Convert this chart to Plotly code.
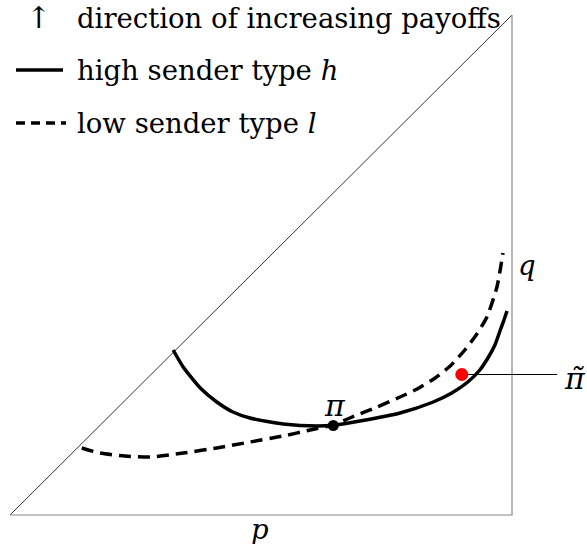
import plotly.graph_objects as go

# High sender type h (solid curve) (p, q)
high_p = [0.325, 0.345, 0.379, 0.412, 0.444, 0.478, 0.544, 0.612, 0.647, 0.697,
          0.777, 0.843, 0.880, 0.912, 0.936, 0.952, 0.966, 0.976, 0.984, 0.990]
high_q = [0.330, 0.296, 0.254, 0.226, 0.206, 0.194, 0.182, 0.178, 0.180, 0.188,
          0.204, 0.226, 0.244, 0.266, 0.290, 0.314, 0.340, 0.368, 0.390, 0.408]

# Low sender type l (dashed curve)
low_p = [0.143, 0.179, 0.229, 0.279, 0.345, 0.412, 0.478, 0.544, 0.598, 0.643,
         0.677, 0.731, 0.777, 0.811, 0.847, 0.877, 0.906, 0.930, 0.950, 0.970, 0.982]
low_q = [0.134, 0.124, 0.118, 0.116, 0.124, 0.134, 0.146, 0.158, 0.170, 0.180,
         0.194, 0.216, 0.236, 0.252, 0.274, 0.298, 0.330, 0.362, 0.396, 0.456, 0.524]

# Points
pi_point = (0.644, 0.179)
pi_tilde_point = (0.900, 0.281)
pi_tilde_line_end = 1.090

FONT = "DejaVu Serif"
FS = 27.5

fig = go.Figure()

# triangle
fig.add_trace(go.Scatter(x=[0, 1], y=[0, 1], mode="lines",
                         line=dict(color="#333333", width=1), hoverinfo="skip"))
fig.add_trace(go.Scatter(x=[0, 1, 1], y=[0, 0, 1], mode="lines",
                         line=dict(color="#888888", width=1.2), hoverinfo="skip"))

# curves
fig.add_trace(go.Scatter(x=low_p, y=low_q, mode="lines",
                         line=dict(color="black", width=3.5, dash="12px,7px",
                                   shape="spline", smoothing=0.6),
                         hoverinfo="skip"))
fig.add_trace(go.Scatter(x=high_p, y=high_q, mode="lines",
                         line=dict(color="black", width=3.5, shape="spline", smoothing=0.6),
                         hoverinfo="skip"))

# pi tilde line
fig.add_trace(go.Scatter(x=[pi_tilde_point[0], pi_tilde_line_end],
                         y=[pi_tilde_point[1], pi_tilde_point[1]], mode="lines",
                         line=dict(color="black", width=1), hoverinfo="skip"))

# points
fig.add_trace(go.Scatter(x=[pi_point[0]], y=[pi_point[1]], mode="markers",
                         marker=dict(color="black", size=11), hoverinfo="skip"))
fig.add_trace(go.Scatter(x=[pi_tilde_point[0]], y=[pi_tilde_point[1]], mode="markers",
                         marker=dict(color="red", size=13), hoverinfo="skip"))

def ann(x, y, text, xanchor="center", xref="x", yref="y", size=FS, family=FONT):
    fig.add_annotation(x=x, y=y, xref=xref, yref=yref, text=text, showarrow=False,
                       xanchor=xanchor, yanchor="middle",
                       font=dict(family=family, size=size, color="black"))

ann(0.647, 0.220, "<i>π</i>", size=30)
ann(1.125, 0.274, "<i>π̃</i>", size=30)
ann(1.03, 0.50, "<i>q</i>")
ann(0.498, -0.028, "<i>p</i>")

# legend
ann(38 / 587, 1 - 18 / 544, "↑", xref="paper", yref="paper", size=30)
ann(75 / 587, 1 - 18 / 544, "direction of increasing payoffs", xanchor="left", xref="paper", yref="paper")
ann(75 / 587, 1 - 70 / 544, "high sender type <i>h</i>", xanchor="left", xref="paper", yref="paper")
ann(75 / 587, 1 - 123 / 544, "low sender type <i>l</i>", xanchor="left", xref="paper", yref="paper")
fig.add_shape(type="line", xref="paper", yref="paper", x0=16 / 587, x1=63 / 587,
              y0=1 - 70 / 544, y1=1 - 70 / 544, line=dict(color="black", width=3.5))
fig.add_shape(type="line", xref="paper", yref="paper", x0=16 / 587, x1=66 / 587,
              y0=1 - 123 / 544, y1=1 - 123 / 544,
              line=dict(color="black", width=3.5, dash="9px,6px"))

fig.update_layout(
    width=587, height=544,
    margin=dict(l=0, r=0, t=0, b=0),
    paper_bgcolor="white", plot_bgcolor="white",
    showlegend=False,
    xaxis=dict(range=[-10 / 502, 577 / 502], visible=False, fixedrange=True),
    yaxis=dict(range=[-29 / 500, 515 / 500], visible=False, fixedrange=True),
)

fig.write_html("out.html", post_script="document.body.style.margin='0';",
               config={"displayModeBar": False})
